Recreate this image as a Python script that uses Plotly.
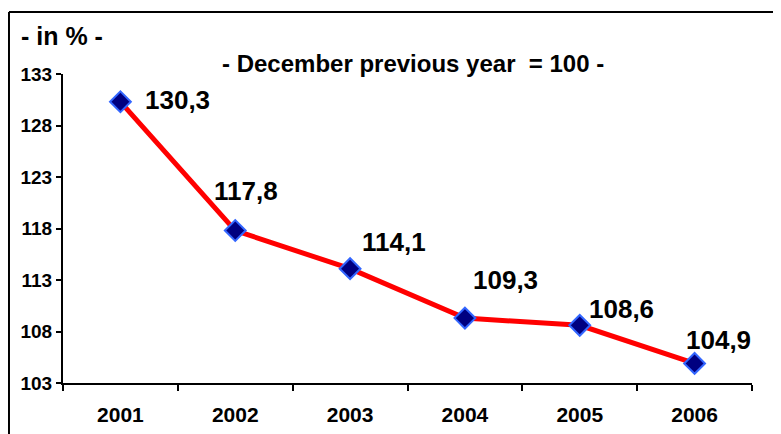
import plotly.graph_objects as go

years = ["2001", "2002", "2003", "2004", "2005", "2006"]
values = [130.3, 117.8, 114.1, 109.3, 108.6, 104.9]
labels = ["130,3", "117,8", "114,1", "109,3", "108,6", "104,9"]
y_ticks = [103, 108, 113, 118, 123, 128, 133]

# label offsets (pixels) relative to each point, style only
label_dx = [57, 11, 44, 41, 42, 24]
label_dy = [2, 40, 27, 38, 16, 23]

FONT = "Arial, Liberation Sans, sans-serif"

fig = go.Figure()
fig.add_trace(go.Scatter(
    x=years, y=values, mode="lines+markers",
    line=dict(color="#FF0000", width=5),
    marker=dict(symbol="diamond", size=16, color="#000080",
                line=dict(color="#3366FF", width=2)),
    hoverinfo="skip", showlegend=False,
))

for i, (y, t, dx, dy) in enumerate(zip(values, labels, label_dx, label_dy)):
    fig.add_annotation(x=i, y=y, text=t, showarrow=False,
                       xanchor="center", yanchor="middle",
                       xshift=dx, yshift=dy,
                       font=dict(family=FONT, size=26, color="black", weight="bold"))

fig.add_annotation(xref="paper", yref="paper", x=0.508, y=1.035,
                   text="- December previous year  = 100 -", showarrow=False,
                   xanchor="center", yanchor="middle",
                   font=dict(family=FONT, size=24, color="black", weight="bold"))
fig.add_annotation(xref="paper", yref="paper", x=-0.064, y=1.123,
                   text="- in % -", showarrow=False,
                   xanchor="left", yanchor="middle",
                   font=dict(family=FONT, size=25, color="black", weight="bold"))

# outer frame (top and left edges visible)
fig.add_shape(type="line", xref="paper", yref="paper",
              x0=-0.0784, x1=1.2, y0=1.2006, y1=1.2006,
              line=dict(color="black", width=2))
fig.add_shape(type="line", xref="paper", yref="paper",
              x0=-0.0784, x1=-0.0784, y0=1.2006, y1=-0.3,
              line=dict(color="black", width=2))

fig.update_layout(
    width=781, height=434,
    margin=dict(l=55, r=37, t=66, b=59),
    paper_bgcolor="white", plot_bgcolor="white",
    font=dict(family=FONT, color="black"),
    xaxis=dict(type="category", tickson="boundaries", ticks="outside",
               ticklen=6, tickwidth=2, tickcolor="black",
               showline=True, linecolor="black", linewidth=2,
               showgrid=False, zeroline=False, ticklabelstandoff=12,
               tickfont=dict(family=FONT, size=21, weight="bold"),
               range=[-0.5, 5.5]),
    yaxis=dict(range=[103, 133], tickvals=y_ticks, ticks="outside",
               ticklen=5, tickwidth=2, tickcolor="black",
               showline=True, linecolor="black", linewidth=2,
               showgrid=False, zeroline=False,
               tickfont=dict(family=FONT, size=19, weight="bold")),
)

fig.write_html("out.html")
